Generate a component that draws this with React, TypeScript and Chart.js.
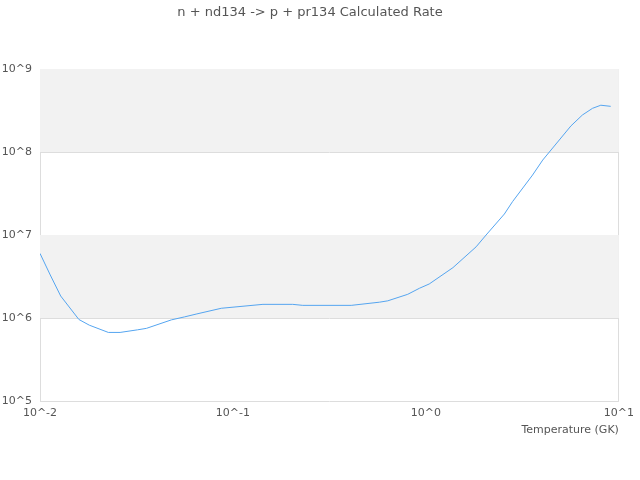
import React, { useEffect, useRef } from "react";
import { Chart, registerables } from "chart.js";

Chart.register(...registerables);

const TITLE = "n + nd134 -> p + pr134 Calculated Rate";
const X_TITLE = "Temperature (GK)";
const temperatures = [
  0.01, 0.0113, 0.0128, 0.0159, 0.018, 0.0226, 0.026, 0.032, 0.0356, 0.048,
  0.056, 0.065, 0.087, 0.143, 0.204, 0.23, 0.41, 0.574, 0.634, 0.805, 0.925,
  1.04, 1.38, 1.82, 2.05, 2.55, 2.81, 3.57, 4.03, 5.64, 6.47, 7.3, 8.06, 9.07,
];
const rates = [
  6.0e6, 3.3e6, 1.84e6, 9.6e5, 8.2e5, 6.7e5, 6.7e5, 7.2e5, 7.5e5, 9.5e5,
  1.03e6, 1.12e6, 1.31e6, 1.46e6, 1.46e6, 1.42e6, 1.42e6, 1.55e6, 1.61e6,
  1.93e6, 2.28e6, 2.57e6, 4.04e6, 7.2e6, 1.0e7, 1.79e7, 2.52e7, 5.28e7, 8.0e7,
  2.06e8, 2.79e8, 3.36e8, 3.66e8, 3.55e8,
];
const xTicks = [0.01, 0.1, 1, 10];
const xTickLabels = ["10^-2", "10^-1", "10^0", "10^1"];
const yTicks = [1e5, 1e6, 1e7, 1e8, 1e9];
const yTickLabels = ["10^5", "10^6", "10^7", "10^8", "10^9"];
const bands = [
  [1e6, 1e7],
  [1e8, 1e9],
];

const FONT = "'DejaVu Sans', sans-serif";
const TEXT = "#555555";
const GRID = "#dddddd";

const bandPlugin = {
  id: "bands",
  beforeDatasetsDraw(chart: any) {
    const { ctx, chartArea, scales } = chart;
    ctx.save();
    ctx.fillStyle = "#f2f2f2";
    for (const [lo, hi] of bands) {
      const y1 = scales.y.getPixelForValue(hi);
      const y2 = scales.y.getPixelForValue(lo);
      ctx.fillRect(chartArea.left, y1, chartArea.right - chartArea.left, y2 - y1);
    }
    ctx.restore();
  },
};

export default function App() {
  const ref = useRef<HTMLCanvasElement | null>(null);
  useEffect(() => {
    document.body.style.margin = "0";
    const chart = new Chart(ref.current!, {
      type: "line",
      data: {
        datasets: [
          {
            data: temperatures.map((t, i) => ({ x: t, y: rates[i] })),
            borderColor: "rgb(85,165,240)",
            borderWidth: 1,
            pointRadius: 0,
            fill: false,
            tension: 0,
          },
        ],
      },
      options: {
        animation: false,
        responsive: false,
        layout: { padding: { top: 0, left: 0, right: 20, bottom: 0 } },
        plugins: {
          legend: { display: false },
          tooltip: { enabled: false },
          title: {
            display: true,
            text: TITLE,
            color: TEXT,
            font: { family: FONT, size: 13, weight: "normal" },
            padding: { top: 5, bottom: 48.4 },
          },
        },
        scales: {
          x: {
            type: "logarithmic",
            min: 0.01,
            max: 10,
            afterBuildTicks(scale: any) {
              scale.ticks = xTicks.map((v) => ({ value: v }));
            },
            afterFit(scale: any) {
              scale.height = 79;
            },
            ticks: {
              color: TEXT,
              font: { family: FONT, size: 11 },
              padding: 6,
              maxRotation: 0,
              autoSkip: false,
              callback: (v: any) => {
                const i = xTicks.findIndex((t) => Math.abs(t - Number(v)) < 1e-9 * t);
                return i >= 0 ? xTickLabels[i] : "";
              },
            },
            grid: {
              drawTicks: false,
              color: (c: any) =>
                c.tick && (c.tick.value === 0.01 || c.tick.value === 10) ? GRID : "rgba(0,0,0,0)",
            },
            border: { display: false },
            title: {
              display: true,
              text: X_TITLE,
              align: "end",
              color: TEXT,
              font: { family: FONT, size: 11 },
              padding: { top: 0, bottom: 43 },
            },
          },
          y: {
            type: "logarithmic",
            min: 1e5,
            max: 1e9,
            afterBuildTicks(scale: any) {
              scale.ticks = yTicks.map((v) => ({ value: v }));
            },
            afterFit(scale: any) {
              scale.width = 40;
            },
            ticks: {
              color: TEXT,
              font: { family: FONT, size: 11 },
              padding: 8,
              autoSkip: false,
              callback: (v: any) => {
                const i = yTicks.findIndex((t) => Math.abs(t - Number(v)) < 1e-9 * t);
                return i >= 0 ? yTickLabels[i] : "";
              },
            },
            grid: { drawTicks: false, color: GRID },
            border: { display: false },
          },
        },
      },
      plugins: [bandPlugin],
    } as any);
    return () => chart.destroy();
  }, []);
  return (
    <div style={{ width: 640, height: 480 }}>
      <canvas ref={ref} width={640} height={480} style={{ display: "block" }} />
    </div>
  );
}
